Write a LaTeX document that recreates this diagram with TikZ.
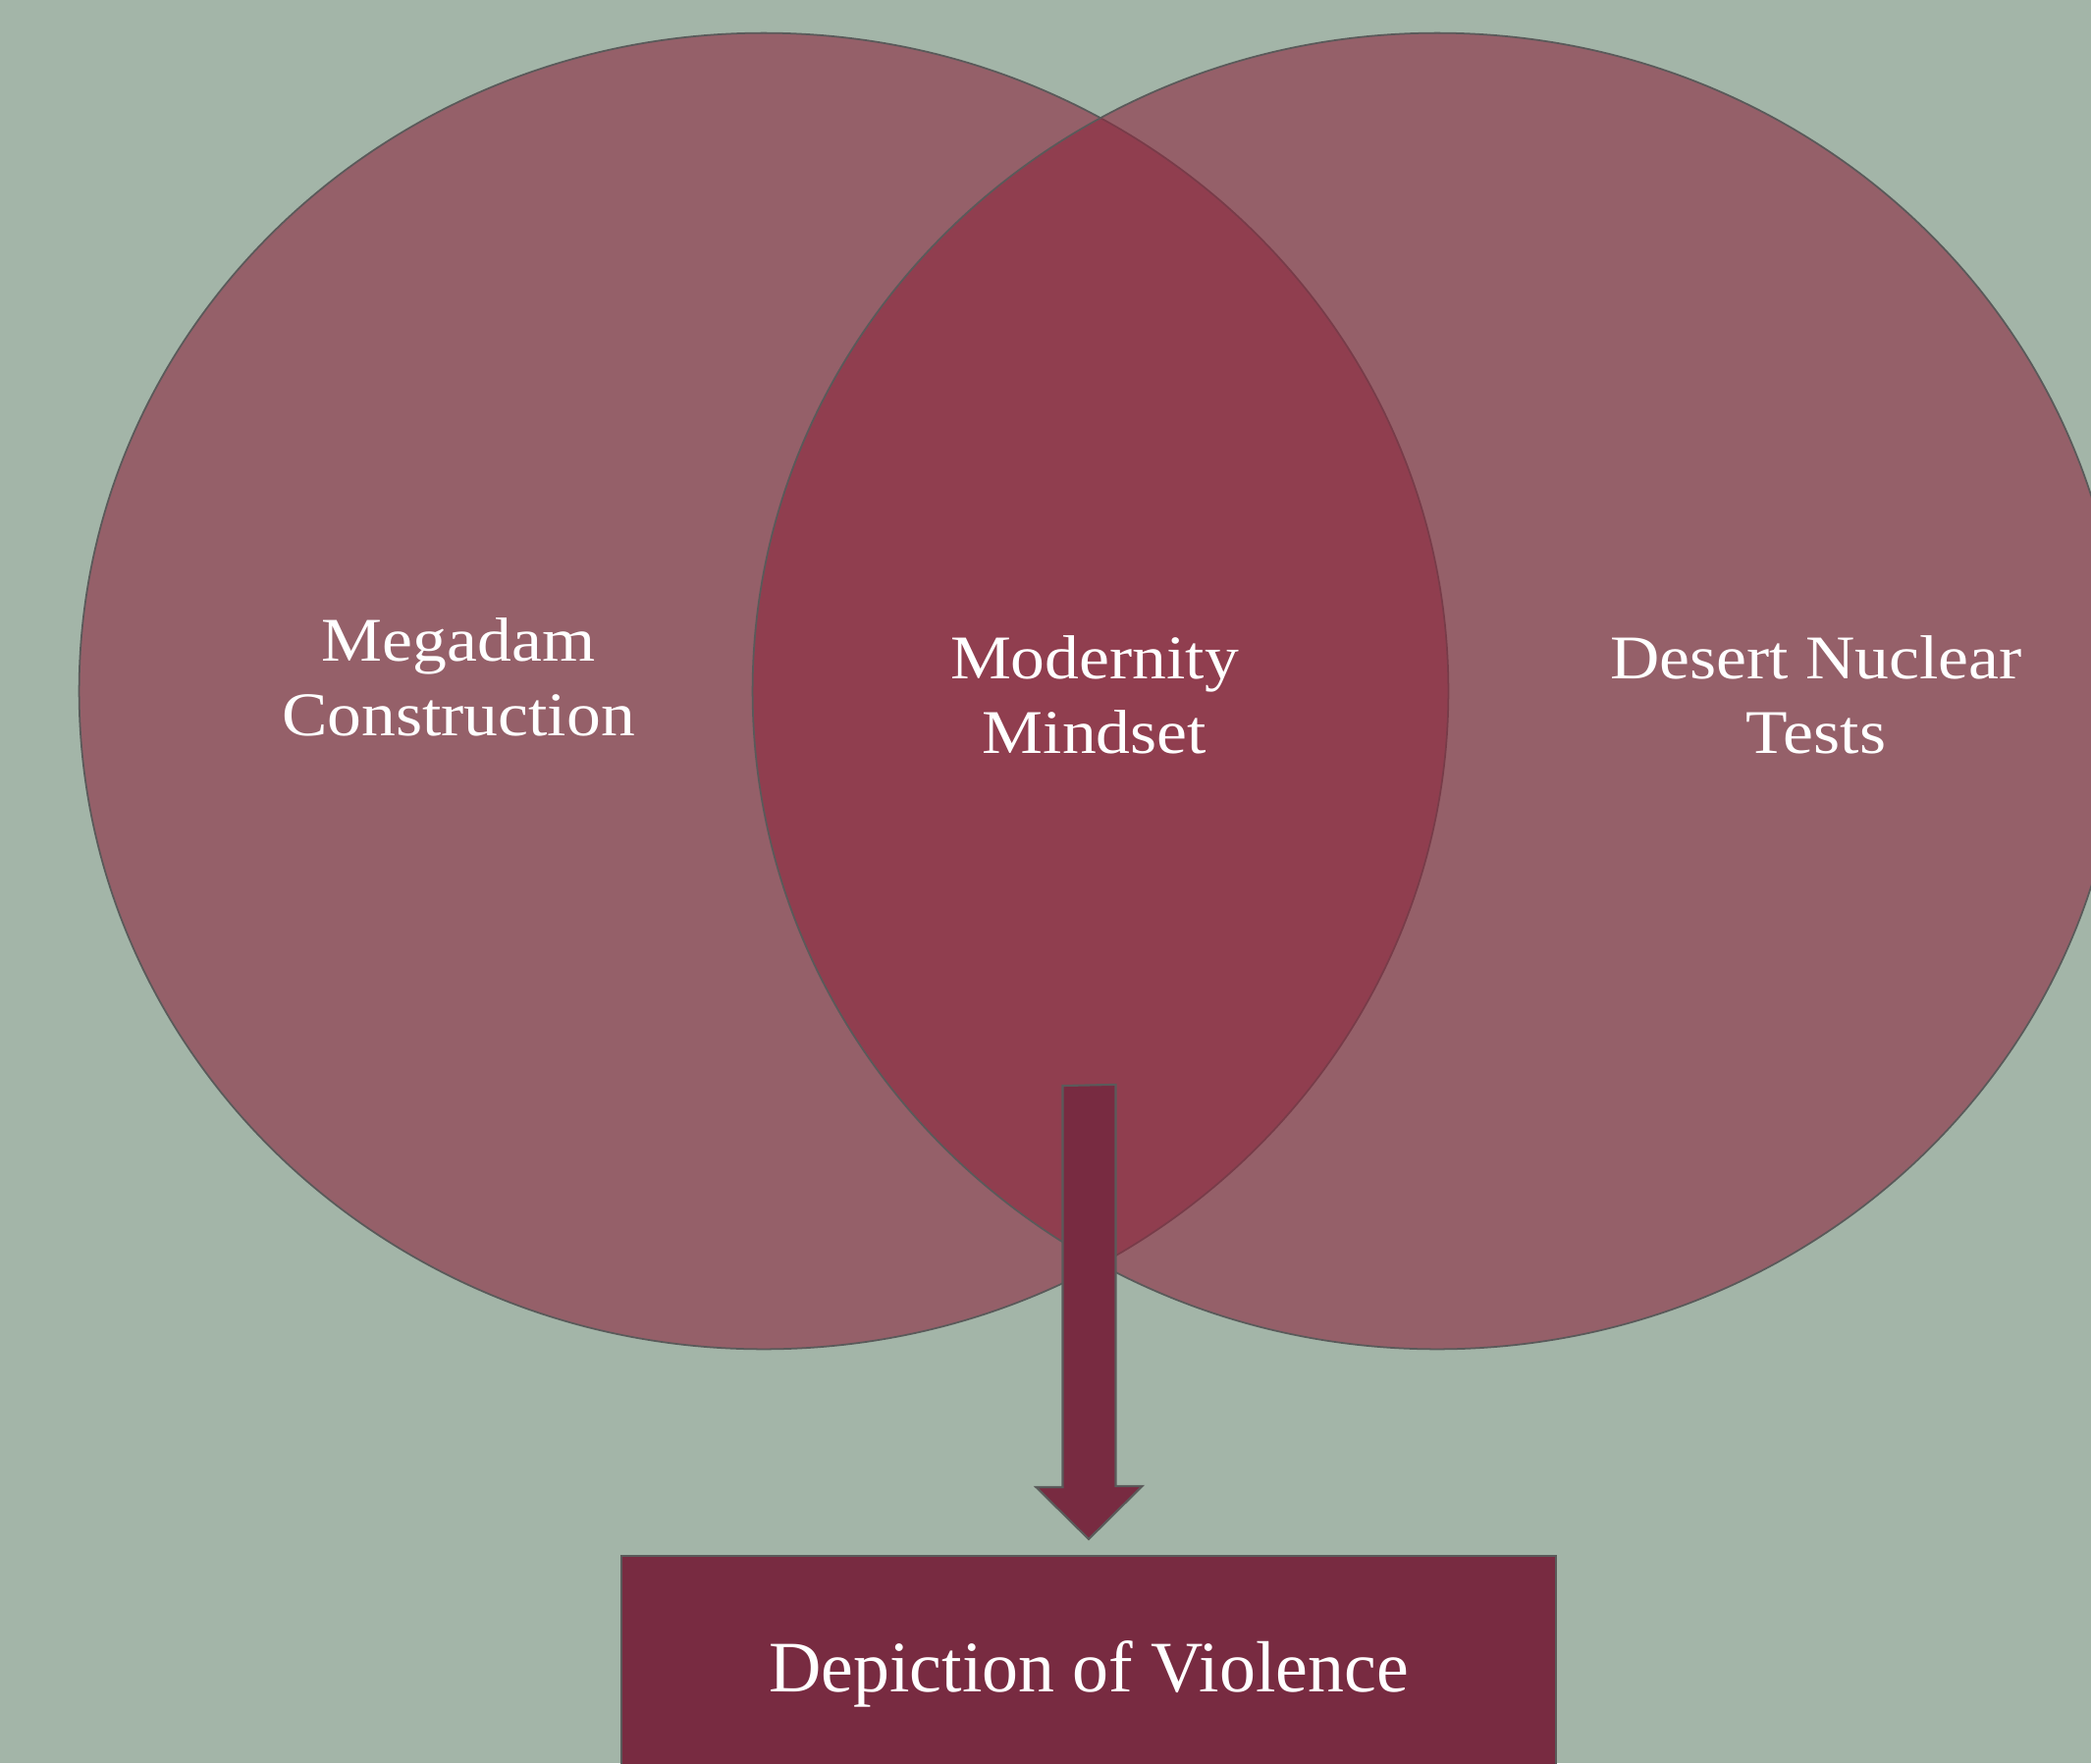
\documentclass[tikz,border=0pt]{standalone}
\usepackage{fontspec}
\setmainfont{Liberation Serif}
\newfontfamily\widefont[FakeStretch=1.1]{Liberation Serif}
\usetikzlibrary{calc}
\definecolor{sage}{RGB}{163,181,168}
\definecolor{wine}{RGB}{141,40,63}
\definecolor{darkwine}{RGB}{120,43,65}
\definecolor{rim}{RGB}{90,90,90}
\tikzset{
  setshape/.style={fill=wine,fill opacity=0.6,draw=rim,line width=0.5pt},
  setlabel/.style={text=white,align=center,font=\widefont\fontsize{18}{21.6}\selectfont},
  arrowbody/.style={fill=darkwine,draw=rim,line width=0.6pt},
  resultbox/.style={fill=darkwine,draw=rim,line width=0.6pt,minimum width=9.52cm,minimum height=2.4cm,
    text=white,font=\fontsize{21}{25}\selectfont}
}

\begin{document}
\begin{tikzpicture}[x=0.01cm,y=-0.01cm]
\useasboundingbox (0,0) rectangle (2130,1796);
\clip (0,0) rectangle (2130,1796);
\fill[sage] (0,0) rectangle (2130,1796);

% the two sets
\draw[setshape] (778,704) ellipse [x radius=6.97cm, y radius=6.7cm];
\draw[setshape] (1464,704) ellipse [x radius=6.97cm, y radius=6.7cm];

\node[setlabel] (dam) at (467,690) {Megadam\\Construction};
\node[setlabel] (mindset) at (1115,708) {Modernity\\Mindset};
\node[setlabel] (tests) at (1850,708) {Desert Nuclear\\Tests};

% outcome
\node[resultbox] (violence) at (1109,1705) {Depiction of Violence};

\coordinate (tail) at (1110,1106);
\coordinate (tip) at ($(violence.north)+(0,-16)$);
\draw[arrowbody] (tail) ++(-27.5,0) -- ++(0,409) -- ++(-27,0) -- (tip)
  -- ++(54.5,-54) -- ++(-27,0) -- ++(0,-409) -- cycle;
\end{tikzpicture}
\end{document}
